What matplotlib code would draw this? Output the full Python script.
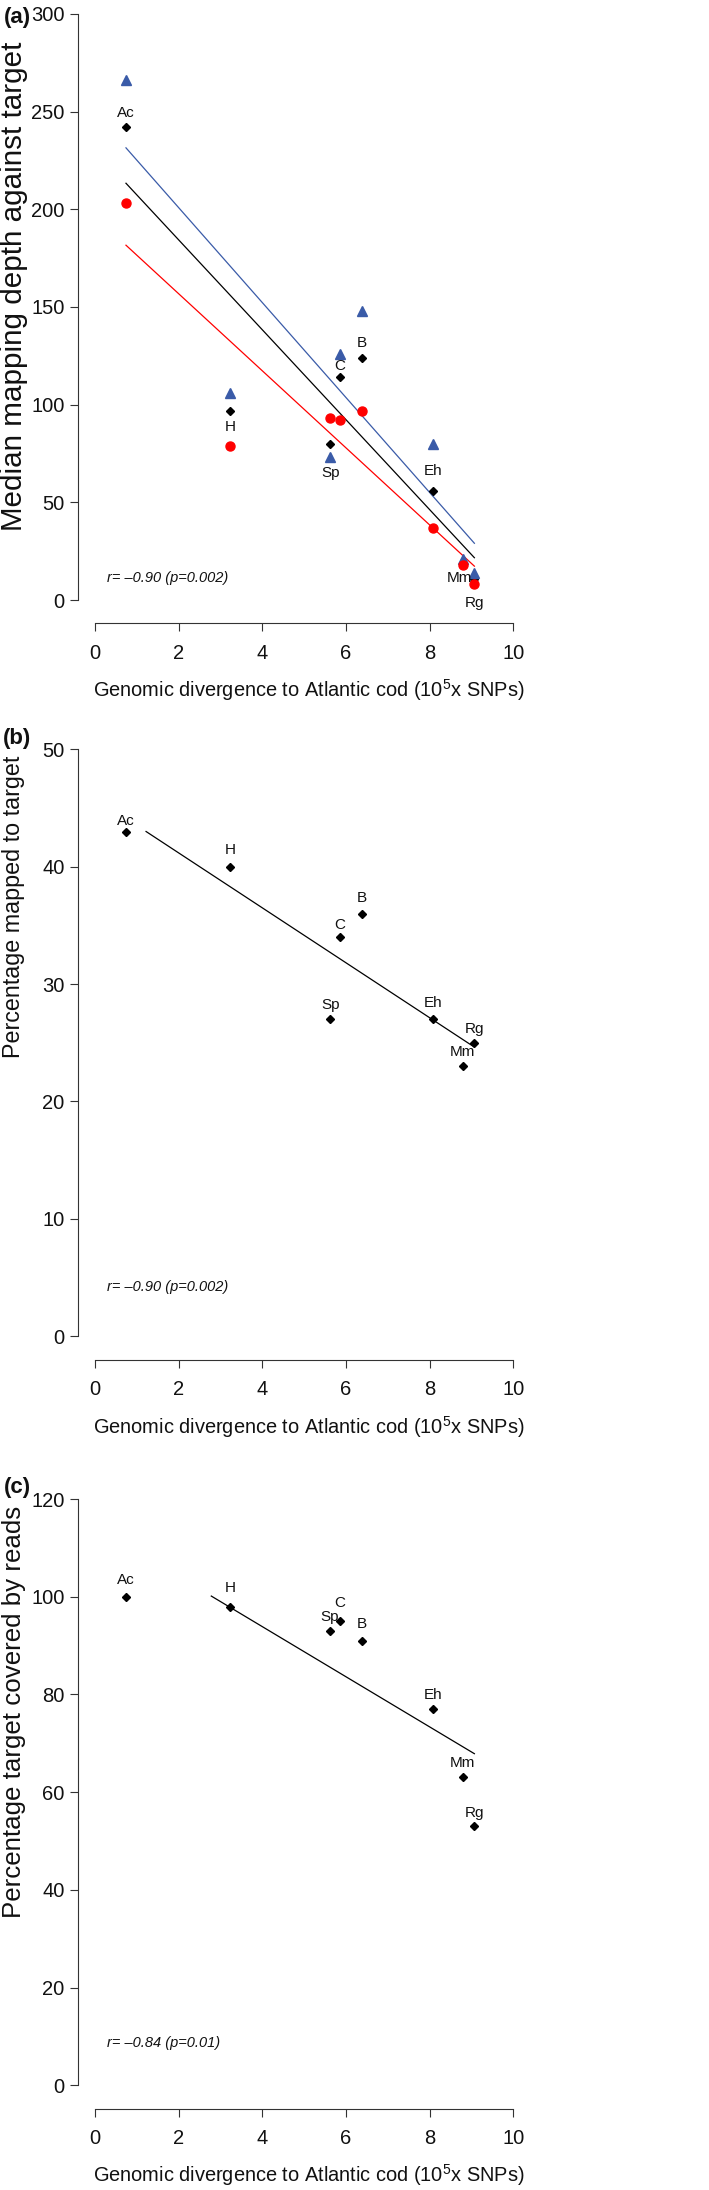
import numpy as np
import matplotlib
matplotlib.use('Agg')
import matplotlib.pyplot as plt

plt.rcParams['font.family'] = ['Liberation Sans', 'DejaVu Sans']
plt.rcParams['mathtext.fontset'] = 'custom'
plt.rcParams['mathtext.rm'] = 'Liberation Sans'
plt.rcParams['mathtext.it'] = 'Liberation Sans:italic'

species = ['Ac', 'H', 'Sp', 'C', 'B', 'Eh', 'Mm', 'Rg']
divergence = [0.74, 3.23, 5.63, 5.86, 6.39, 8.09, 8.79, 9.07]

# (a) median mapping depth
depth_black = [242, 97, 80, 114, 124, 56, 19, 11]
depth_blue = [266, 106, 73, 126, 148, 80, 21, 14]
depth_red = [203, 79, 93, 92, 97, 37, 18, 8]
# (b) percentage mapped
pct_mapped = [43, 40, 27, 34, 36, 27, 23, 25]
# (c) percentage covered
pct_covered = [100, 98, 93, 95, 91, 77, 63, 53]

stats_txt = ['r= \u20130.90 (p=0.002)', 'r= \u20130.90 (p=0.002)', 'r= \u20130.84 (p=0.01)']
ylabels = ['Median mapping depth against target', 'Percentage mapped to target',
           'Percentage target covered by reads']
panel_tags = ['(a)', '(b)', '(c)']
xlab = 'Genomic divergence to Atlantic cod (10$^5$x SNPs)'

W, H = 709, 2190
fig = plt.figure(figsize=(W / 100, H / 100), dpi=100)

BLUE = '#3a5ba8'
AXC = '#333333'
TXT = '#111111'


def fx(x):
    return x / W


def fy(y):
    return 1 - y / H


def make_axes(top, bottom, ylim, yticks):
    left, right = 78.3, 530
    ax = fig.add_axes([fx(left), fy(bottom), fx(right - left), (bottom - top) / H])
    ax.set_xlim(-0.4, 10.4)
    ax.set_ylim(*ylim)
    for s in ['top', 'right']:
        ax.spines[s].set_visible(False)
    ax.spines['left'].set_bounds(yticks[0], yticks[-1])
    ax.spines['bottom'].set_bounds(0, 10)
    for s in ['left', 'bottom']:
        ax.spines[s].set_color(AXC)
        ax.spines[s].set_linewidth(0.8)
    ax.set_xticks(range(0, 11, 2))
    ax.set_yticks(yticks)
    ax.tick_params(axis='both', direction='out', length=5.8, width=0.8, color=AXC,
                   labelsize=14.5, labelcolor=TXT)
    ax.tick_params(axis='y', pad=4)
    ax.tick_params(axis='x', pad=9)
    ax.patch.set_alpha(0)
    return ax


def fit_line(ax, x, y, xr, color):
    k, b = np.polyfit(x, y, 1)
    xs = np.array(xr)
    ax.plot(xs, k * xs + b, color=color, lw=0.9, zorder=2)


def labels(ax, y, offs):
    for i, name in enumerate(species):
        dx, dy = offs[i]
        ax.annotate(name, (divergence[i], y[i]), xytext=(dx * 0.72, -dy * 0.72),
                    textcoords='offset points', ha='center', va='center',
                    fontsize=11, color=TXT, zorder=6)


def fit_size(t, target, vertical):
    # rescale a text so that its drawn length matches the reference length in pixels
    r = fig.canvas.get_renderer()
    for _ in range(2):
        bb = t.get_window_extent(r)
        size = bb.height if vertical else bb.width
        t.set_fontsize(t.get_fontsize() * target / size)


# ---------------- (a)
axa = make_axes(-9.6, 623.5, (-12, 312), [0, 50, 100, 150, 200, 250, 300])
fit_line(axa, divergence, depth_blue, [0.74, 9.07], BLUE)
fit_line(axa, divergence, depth_black, [0.74, 9.07], 'black')
fit_line(axa, divergence, depth_red, [0.74, 9.07], 'red')
axa.plot(divergence, depth_black, 'D', color='black', ms=4, ls='none', zorder=3)
axa.plot(divergence, depth_blue, '^', color=BLUE, ms=7, ls='none', zorder=4)
axa.plot(divergence, depth_red, 'o', color='red', ms=6.5, ls='none', zorder=5)
labels(axa, depth_black, [(0, -14), (0, 16), (0, 29), (0, -11), (0, -15), (0, -20), (-3, 15), (0, 24)])
axa.text(0.29, 11.3, stats_txt[0], fontsize=10.5, style='italic', va='center', color=TXT)

# ---------------- (b)
axb = make_axes(726.0, 1359.5, (-2, 52), [0, 10, 20, 30, 40, 50])
fit_line(axb, divergence, pct_mapped, [1.22, 9.07], 'black')
axb.plot(divergence, pct_mapped, 'D', color='black', ms=4, ls='none', zorder=3)
labels(axb, pct_mapped, [(0, -11), (0, -17), (0, -14), (0, -12), (0, -16), (0, -16), (0, -14), (0, -14)])
axb.text(0.29, 4.15, stats_txt[1], fontsize=10.5, style='italic', va='center', color=TXT)

# ---------------- (c)
axc = make_axes(1475.6, 2108.7, (-4.8, 124.8), [0, 20, 40, 60, 80, 100, 120])
fit_line(axc, divergence, pct_covered, [2.78, 9.07], 'black')
axc.plot(divergence, pct_covered, 'D', color='black', ms=4, ls='none', zorder=3)
labels(axc, pct_covered, [(0, -17), (0, -19), (-1, -14), (0, -18), (0, -17), (0, -14), (0, -14), (0, -13)])
axc.text(0.29, 8.6, stats_txt[2], fontsize=10.5, style='italic', va='center', color=TXT)

# axis titles and panel tags
xlab_y = [690, 1426.7, 2175]
ylab_span = [(42, 530), (756, 1058), (1506, 1918)]
tag_y = [18, 738, 1488]
for i in range(3):
    t = fig.text(fx(309), fy(xlab_y[i]), xlab, fontsize=14.5, ha='center', va='center', color=TXT)
    fit_size(t, 432, False)
    y0, y1 = ylab_span[i]
    t = fig.text(fx(14), fy((y0 + y1) / 2), ylabels[i], fontsize=16,
                 rotation=90, ha='center', va='center', color=TXT)
    fit_size(t, y1 - y0, True)
    fig.text(fx(17), fy(tag_y[i]), panel_tags[i], fontsize=16, weight='bold',
             ha='center', va='center', color=TXT)

fig.savefig('out.png', dpi=100)
